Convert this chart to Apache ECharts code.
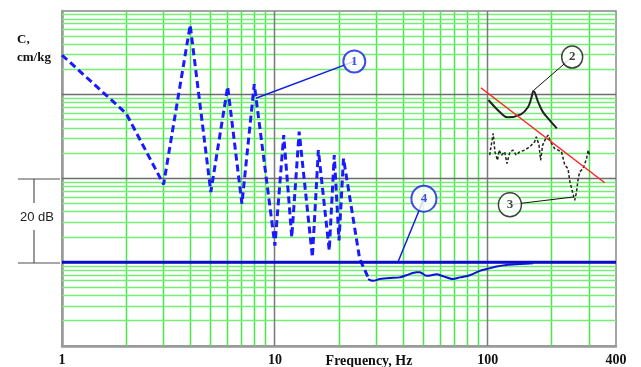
<!DOCTYPE html>
<html>
<head>
<meta charset="utf-8">
<script src="https://cdn.jsdelivr.net/npm/echarts@6/dist/echarts.min.js"></script>
<style>
  html, body { margin: 0; padding: 0; background: #fff; }
  #chart { width: 641px; height: 367px; }
</style>
</head>
<body>
<div id="chart"></div>
<script>
// x: frequency (Hz, log), y: compliance C (log, 20 dB per decade)
const freqLabels = [1, 10, 100, 400];

// curve 1 - dashed blue
const curve1 = [[1, 2980], [2, 600], [3, 85], [4, 6800], [5, 69], [6, 1250], [7, 50], [8, 1340],
  [10, 15.8], [11, 330], [12, 19.9], [13, 362], [15, 11.5], [16, 218], [18, 13.8], [19, 190],
  [20, 18.2], [21, 173], [25, 11], [27.4, 6.6]];

// curve 2 - solid black resonance
const curve2 = [[100.7, 866], [115.5, 600], [124, 537], [143, 584], [154, 703], [160, 908],
  [164, 1111], [172, 829], [181, 629], [195, 499], [211, 397]];

// curve 3 - dotted black, noisy
const curve3 = [[102, 190], [106, 345], [108, 208], [111, 165], [113, 218], [116, 190], [120, 208],
  [123, 151], [127, 208], [131.5, 218], [136, 190], [141, 208], [149, 218], [157.5, 239], [166, 275],
  [169, 315], [174, 250], [177, 165], [181, 250], [187, 301], [192, 330], [197, 275], [206, 228],
  [222, 208], [230, 144], [238, 131], [243, 91], [250, 69], [256, 55], [261, 69], [265, 95],
  [270, 120], [280, 131], [291, 173], [296, 218], [301, 190]];

// curve 4 - flat reference and measured dip
const curve4Flat = [[1, 10], [400, 10]];
const curve4 = [[27.4, 6.3], [28.9, 6.0], [31.1, 6.3], [34.7, 6.5], [38.6, 6.6], [41.5, 7.0],
  [46.3, 7.6], [47.9, 7.6], [51.5, 6.9], [54.4, 7.0], [57.4, 7.2], [61.7, 6.8], [68.7, 6.3],
  [73.9, 6.6], [82.3, 7.0], [91.7, 7.9], [98.6, 8.3], [109.9, 8.9], [122.4, 9.3], [141.3, 9.5],
  [163.2, 9.7]];

// mass line (red)
const massLine = [[92.7, 1213], [354, 89]];

// callouts
const calloutLabels = ['1', '2', '3', '4'];
const calloutAt = [[23.6, 2500], [249, 2816], [127, 48.7], [50.1, 57.4]];
const calloutTarget = [[8.14, 908], [165, 1142], [253, 60.2], [37.8, 10]];
const calloutColor = ['#1020e0', '#111', '#111', '#1020e0'];
const calloutSize = [[22, 22], [21, 22], [23, 24], [25, 26]];

// grid lines
const majorX = [10, 100];
const majorY = [10, 100, 1000];
const minorX = [2, 3, 4, 5, 6, 7, 8, 9, 20, 30, 40, 50, 60, 70, 80, 90, 200, 300];
const minorY = [];
[1, 10, 100, 1000].forEach(d => { for (let k = 2; k <= 9; k++) minorY.push(k * d); });

const serif = '"Liberation Serif", "Times New Roman", serif';

// grid line drawn through the axis scale
function gridLines(values, vertical, color, width, z) {
  return {
    type: 'custom', silent: true, z: z, clip: false,
    data: values.map(v => vertical ? [v, 1] : [1, v]),
    renderItem: (params, api) => {
      const cs = params.coordSys;
      const p = api.coord([api.value(0), api.value(1)]);
      const shape = vertical
        ? { x1: Math.floor(p[0]) + 0.5, y1: cs.y, x2: Math.floor(p[0]) + 0.5, y2: cs.y + cs.height }
        : { x1: cs.x, y1: Math.floor(p[1]) + 0.5, x2: cs.x + cs.width, y2: Math.floor(p[1]) + 0.5 };
      return { type: 'line', shape, style: { stroke: color, lineWidth: width } };
    }
  };
}

const series = [
  gridLines(minorX, true, '#4ae64a', 1.5, 1),
  gridLines(minorY, false, '#74ee74', 1.5, 1),
  gridLines(majorX, true, '#7a7a7a', 1.5, 2),
  gridLines(majorY, false, '#6e6e6e', 1.5, 2)
];

series.push({
  type: 'line', data: curve1, showSymbol: false, z: 4,
  lineStyle: { color: '#1a1aff', width: 3, type: [7, 4] }
});
series.push({
  type: 'line', data: curve4Flat, showSymbol: false, z: 5,
  lineStyle: { color: '#0a0ad0', width: 3 }
});
series.push({
  type: 'line', data: curve4, showSymbol: false, z: 5, smooth: 0.3,
  lineStyle: { color: '#0a14d8', width: 2 }
});
series.push({
  type: 'line', data: curve2, showSymbol: false, z: 4, smooth: 0.4,
  lineStyle: { color: '#222', width: 2 }
});
series.push({
  type: 'line', data: curve3, showSymbol: false, z: 4,
  lineStyle: { color: '#222', width: 1.5, type: [3, 2] }
});
series.push({
  type: 'line', data: massLine, showSymbol: false, z: 4,
  lineStyle: { color: '#ff2222', width: 1.5 }
});

// callout pointers and circles
calloutLabels.forEach((lab, i) => {
  series.push({
    type: 'line', data: [calloutAt[i], calloutTarget[i]], showSymbol: false, z: 6,
    lineStyle: { color: calloutColor[i], width: i === 0 || i === 3 ? 1.5 : 1 }
  });
  series.push({
    type: 'scatter', data: [calloutAt[i]], z: 7,
    symbol: 'circle', symbolSize: calloutSize[i],
    itemStyle: { color: '#fff', borderColor: calloutColor[i], borderWidth: i === 0 || i === 3 ? 2 : 1.5 },
    label: {
      show: true, position: 'inside', formatter: lab,
      fontFamily: serif, fontWeight: 'bold', fontSize: 13, color: calloutColor[i]
    }
  });
});

const option = {
  animation: false,
  backgroundColor: '#fff',
  grid: { left: 62, right: 25, top: 11, bottom: 20, show: true, borderColor: '#888', borderWidth: 1.5 },
  xAxis: {
    type: 'log', min: 1, max: 400, logBase: 10,
    axisLine: { show: true, lineStyle: { color: '#999', width: 2.5 } },
    axisTick: { show: false },
    axisLabel: {
      margin: 7, fontFamily: serif, fontWeight: 'bold', fontSize: 14, color: '#111',
      showMaxLabel: true, showMinLabel: true,
      formatter: v => {
        const r = Math.round(v);
        return freqLabels.includes(r) ? String(r) : '';
      }
    },
    splitLine: { show: false }
  },
  yAxis: {
    type: 'log', min: 1, max: 10000, logBase: 10,
    axisLine: { show: true, lineStyle: { color: '#999', width: 2.5 } },
    axisTick: { show: false },
    axisLabel: { show: false },
    splitLine: { show: false }
  },
  graphic: [
    { type: 'text', x: 17, y: 40, style: { text: 'C,', font: 'bold 13px ' + serif, fill: '#111', textVerticalAlign: 'middle', verticalAlign: 'middle' } },
    { type: 'text', x: 17, y: 58, style: { text: 'cm/kg', font: 'bold 13px ' + serif, fill: '#111', textVerticalAlign: 'middle', verticalAlign: 'middle' } },
    { type: 'text', x: 369, y: 361, style: { text: 'Frequency, Hz', font: 'bold 14px ' + serif, fill: '#111', textAlign: 'center', align: 'center', textVerticalAlign: 'middle', verticalAlign: 'middle' } },
    { type: 'text', x: 37, y: 217, style: { text: '20 dB', font: '13px "Liberation Sans", Arial, sans-serif', fill: '#222', textAlign: 'center', align: 'center', textVerticalAlign: 'middle', verticalAlign: 'middle' } },
    { type: 'line', shape: { x1: 18, y1: 179, x2: 60, y2: 179 }, style: { stroke: '#888', lineWidth: 1.5 } },
    { type: 'line', shape: { x1: 18, y1: 263, x2: 60, y2: 263 }, style: { stroke: '#888', lineWidth: 1.5 } },
    { type: 'line', shape: { x1: 34, y1: 179, x2: 34, y2: 203 }, style: { stroke: '#333', lineWidth: 1 } },
    { type: 'line', shape: { x1: 34, y1: 230, x2: 34, y2: 263 }, style: { stroke: '#333', lineWidth: 1 } }
  ],
  series
};

const chart = echarts.init(document.getElementById('chart'), null, { renderer: 'canvas' });
chart.setOption(option);
</script>
</body>
</html>
